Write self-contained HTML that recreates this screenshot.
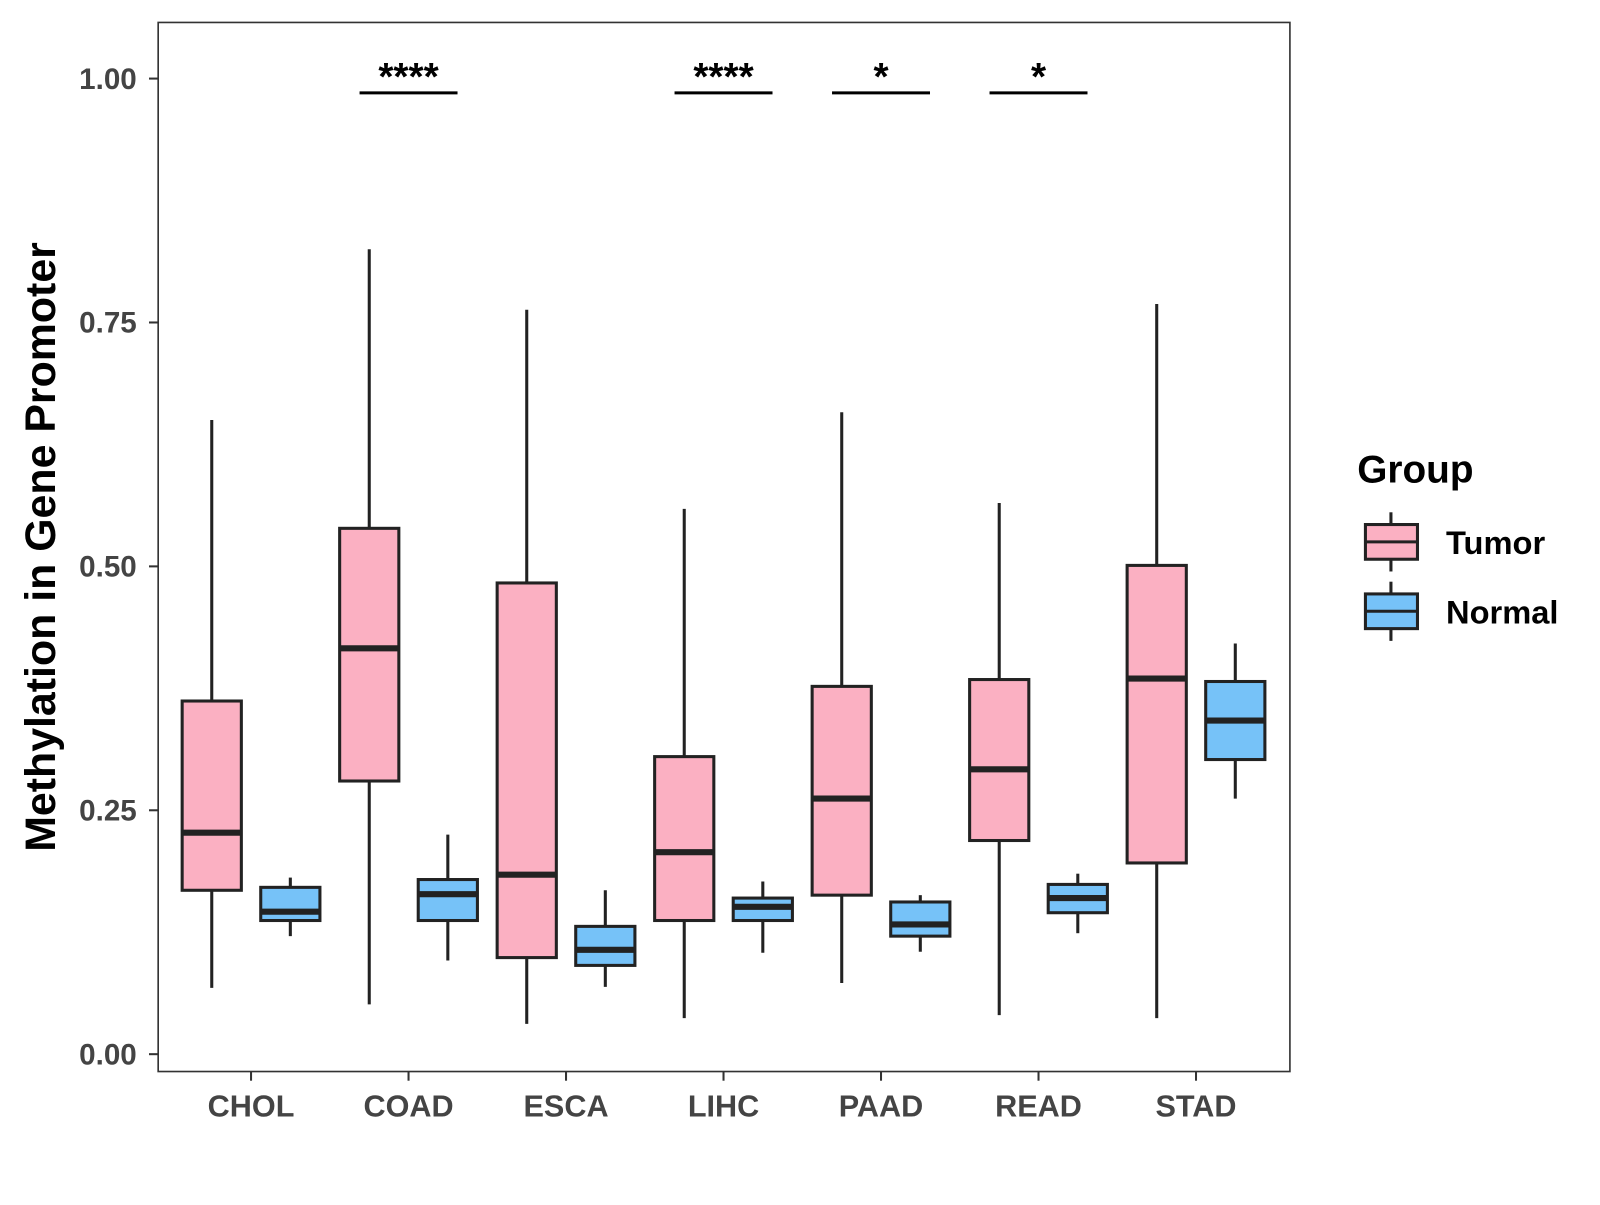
<!DOCTYPE html>
<html><head><meta charset="utf-8"><style>
body{margin:0;background:#fff;}
svg text{font-family:"Liberation Sans",Arial,sans-serif;font-weight:bold;}
</style></head><body>
<svg id="chart" width="1600" height="1200" viewBox="0 0 1600 1200" xmlns="http://www.w3.org/2000/svg">
<rect width="1600" height="1200" fill="#fff"/>
<g transform="scale(1.0205)">
<g id="marks"></g>
<rect x="155" y="22" width="1109" height="1028" fill="none" stroke="#333" stroke-width="1.6"/>
<text transform="translate(54,536) rotate(-90)" text-anchor="middle" font-size="42" fill="#000">Methylation in Gene Promoter</text>
<g>
<text x="1330" y="473" font-size="38" fill="#000">Group</text>
<g>
<line x1="1363" y1="502" x2="1363" y2="560" stroke="#222" stroke-width="3"/>
<rect x="1338" y="514" width="51" height="34" fill="#FBB0C2" stroke="#222" stroke-width="3"/>
<line x1="1338" y1="531" x2="1389" y2="531" stroke="#222" stroke-width="3"/>
<text x="1417" y="543" font-size="32" fill="#000">Tumor</text>
</g>
<g>
<line x1="1363" y1="570" x2="1363" y2="628" stroke="#222" stroke-width="3"/>
<rect x="1338" y="582" width="51" height="34" fill="#76C2F8" stroke="#222" stroke-width="3"/>
<line x1="1338" y1="599" x2="1389" y2="599" stroke="#222" stroke-width="3"/>
<text x="1417" y="611" font-size="32" fill="#000">Normal</text>
</g>
</g>
</g>
</svg>
<script>
const categories=["CHOL","COAD","ESCA","LIHC","PAAD","READ","STAD"];
const tumorLow=[0.068,0.051,0.031,0.037,0.073,0.040,0.037];
const tumorQ1=[0.168,0.280,0.099,0.137,0.163,0.219,0.196];
const tumorMed=[0.227,0.416,0.184,0.207,0.262,0.292,0.385];
const tumorQ3=[0.362,0.539,0.483,0.305,0.377,0.384,0.501];
const tumorHigh=[0.650,0.825,0.763,0.559,0.658,0.565,0.769];
const normalLow=[0.121,0.096,0.069,0.104,0.105,0.124,0.262];
const normalQ1=[0.137,0.137,0.091,0.137,0.121,0.145,0.302];
const normalMed=[0.146,0.164,0.107,0.151,0.133,0.160,0.342];
const normalQ3=[0.171,0.179,0.131,0.160,0.156,0.174,0.382];
const normalHigh=[0.181,0.225,0.168,0.177,0.163,0.185,0.421];
const significance=["","****","","****","*","*",""];
const yTicks=[0,0.25,0.5,0.75,1.0];
const yTickLabels=["0.00","0.25","0.50","0.75","1.00"];

const NS="http://www.w3.org/2000/svg";
const g=document.getElementById('marks');
function y(v){return 1033-v*956;}
function x(i){return 246+i*154.33;}
function mk(tag,attrs,parent){const e=document.createElementNS(NS,tag);for(const k in attrs)e.setAttribute(k,attrs[k]);(parent||g).appendChild(e);return e;}

yTicks.forEach((t,i)=>{
  const l=mk('line',{x1:146,x2:155,y1:y(t),y2:y(t),stroke:'#333','stroke-width':2});
  
  
  const tx=mk('text',{x:134,y:y(t)+10,'text-anchor':'end','font-size':29,fill:'#444'});
  tx.textContent=yTickLabels[i];
  
  
});
categories.forEach((c,i)=>{
  const l=mk('line',{x1:x(i),x2:x(i),y1:1050,y2:1059,stroke:'#333','stroke-width':2});
  
  
  const tx=mk('text',{x:x(i),y:1094,'text-anchor':'middle','font-size':30,fill:'#444'});
  tx.textContent=c;
  
  
});
function box(cx,lo,q1,md,q3,hi,fill,name){
  const grp=mk('g',{});
  
  
  mk('line',{x1:cx,x2:cx,y1:y(hi),y2:y(lo),stroke:'#222','stroke-width':3},grp);
  mk('rect',{x:cx-29,y:y(q3),width:58,height:y(q1)-y(q3),fill:fill,stroke:'#222','stroke-width':3},grp);
  mk('line',{x1:cx-29,x2:cx+29,y1:y(md),y2:y(md),stroke:'#222','stroke-width':6},grp);
}
categories.forEach((c,i)=>{
  box(x(i)-38.5,tumorLow[i],tumorQ1[i],tumorMed[i],tumorQ3[i],tumorHigh[i],'#FBB0C2','tumor-box-'+c.toLowerCase());
  box(x(i)+38.5,normalLow[i],normalQ1[i],normalMed[i],normalQ3[i],normalHigh[i],'#76C2F8','normal-box-'+c.toLowerCase());
  if(significance[i]){
    const l=mk('line',{x1:x(i)-48,x2:x(i)+48,y1:91,y2:91,stroke:'#000','stroke-width':3});
    
    
    const t=mk('text',{x:x(i),y:88,'text-anchor':'middle','font-size':38,fill:'#000'});
    t.textContent=significance[i];
    
    
  }
});
</script>
</body></html>
